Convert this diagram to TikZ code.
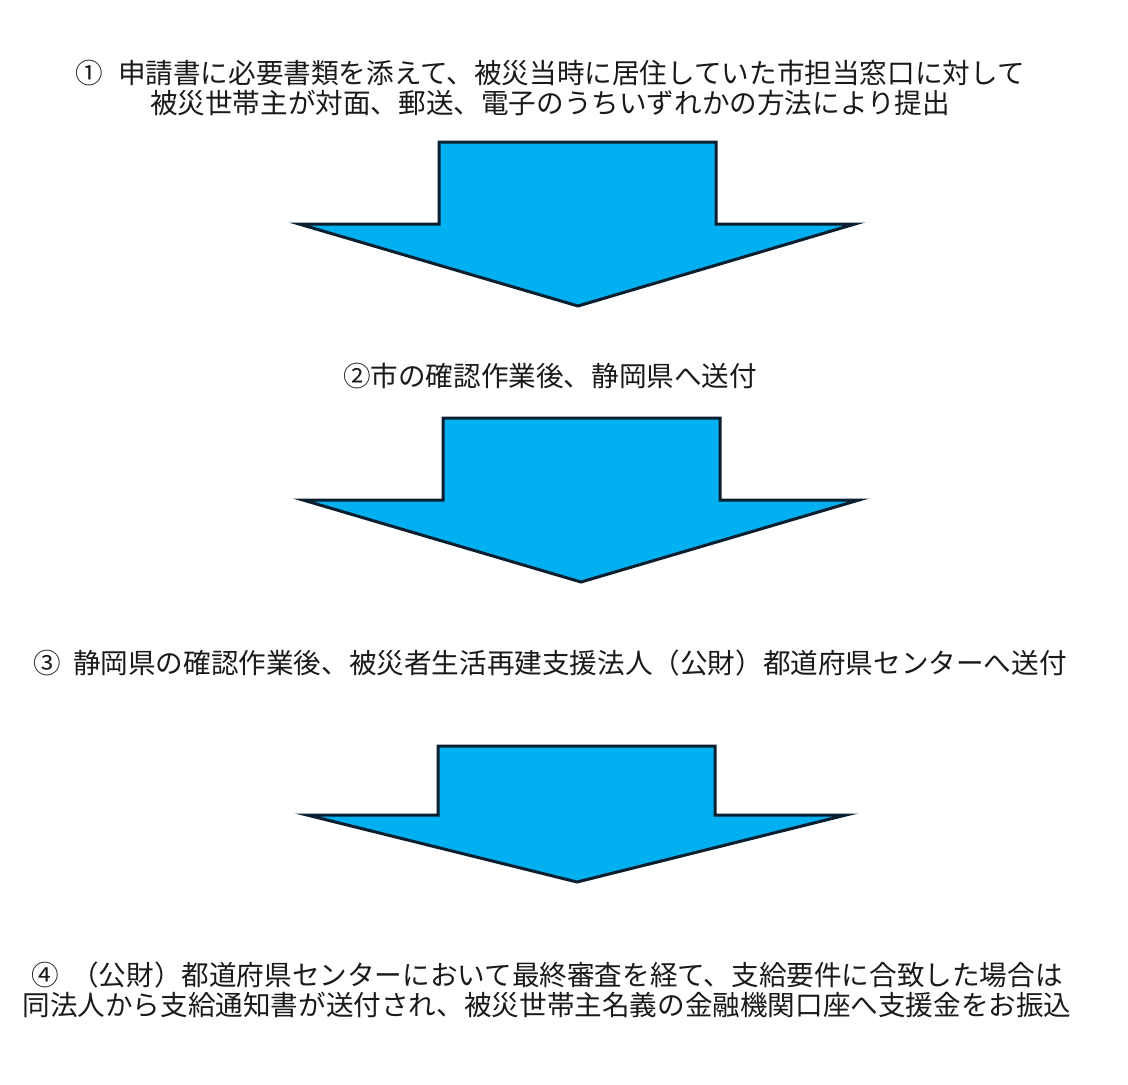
\documentclass[tikz,border=0pt]{standalone}
\usepackage{fontspec}
\setmainfont{Noto Sans CJK JP}
\definecolor{arrowfill}{HTML}{00B0F0}
\definecolor{arrowline}{HTML}{0A2030}
\definecolor{txt}{HTML}{1A1A1A}
\begin{document}
\begin{tikzpicture}[x=1pt,y=-1pt,
  steptext/.style={inner sep=0pt, align=center, text=txt, font=\fontsize{27.6}{30}\selectfont},
  blockarrow/.style={fill=arrowfill, draw=arrowline, line width=3pt, line join=miter}]
\useasboundingbox (0,0) rectangle (1128,1085);
\fill[white] (0,0) rectangle (1128,1085);

\node[steptext] (s1) at (550,88) {①\hspace{0.55em}申請書に必要書類を添えて、被災当時に居住していた市担当窓口に対して\\被災世帯主が対面、郵送、電子のうちいずれかの方法により提出};

\draw[blockarrow] (439,142) -- (716,142) -- (716,224) -- (855,224) -- (578,306) -- (299,224) -- (439,224) -- cycle;

\node[steptext] (s2) at (550,376) {②市の確認作業後、静岡県へ送付};

\draw[blockarrow] (443,418) -- (720,418) -- (720,500) -- (859,500) -- (581,582) -- (303,500) -- (443,500) -- cycle;

\node[steptext] (s3) at (550,663) {③\hspace{0.45em}静岡県の確認作業後、被災者生活再建支援法人（公財）都道府県センターへ送付};

\draw[blockarrow] (438,746) -- (715,746) -- (715,815) -- (846,815) -- (577,882) -- (307,815) -- (438,815) -- cycle;

\node[steptext] (s4) at (547,990) {④\hspace{0.45em}（公財）都道府県センターにおいて最終審査を経て、支給要件に合致した場合は\\同法人から支給通知書が送付され、被災世帯主名義の金融機関口座へ支援金をお振込};
\end{tikzpicture}
\end{document}
